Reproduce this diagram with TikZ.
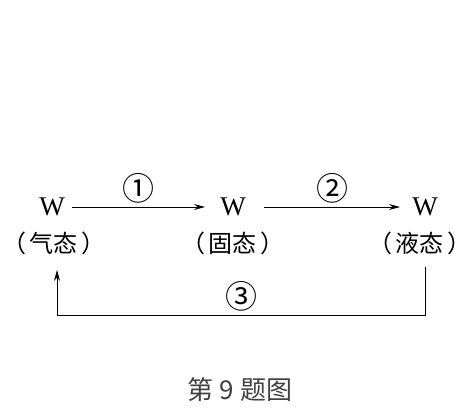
\documentclass[tikz,border=0pt]{standalone}
\usepackage{fontspec}
\setmainfont{Liberation Serif}
\newfontfamily\cjk{Noto Sans CJK SC}
\usetikzlibrary{arrows.meta,positioning,calc}
\newcommand{\phasetext}[1]{（\hspace{0.15em}#1\hspace{0.15em}）}

\begin{document}
\begin{tikzpicture}[x=1pt,y=-1pt,line width=0.8pt,
    >={Stealth[length=11pt,width=6pt]},
    state/.style={font=\fontsize{27}{27}\selectfont, inner sep=3pt},
    phase/.style={font=\cjk\fontsize{24}{24}\selectfont, inner sep=0pt},
    step num/.style={font=\cjk\fontsize{32}{32}\selectfont, inner sep=0pt},
    caption/.style={font=\cjk\fontsize{26}{26}\selectfont, text=black!75}]
    \useasboundingbox (0,0) rectangle (476,410);
    % the three states of W
    \node[state] (gas) at (52,207) {W};
    \node[state] (solid) at (233,207) {W};
    \node[state] (liquid) at (425,207) {W};
    \node[phase] (gaslbl) at (54,243) {\phasetext{气态}};
    \node[phase] (solidlbl) at (233,243) {\phasetext{固态}};
    \node[phase] (liquidlbl) at (420,243) {\phasetext{液态}};
    % changes
    \draw[->] ([xshift=20pt]gas.center) -- node[step num, above=3pt] (n1) {①} ([xshift=-28pt]solid.center);
    \draw[->] ([xshift=31pt]solid.center) -- node[step num, above=3pt] (n2) {②} ([xshift=-25pt]liquid.center);
    \coordinate (back) at (425,267);
    \draw[->] (back) -- (425,315) -| node[step num, pos=0.25, above=3pt] (n3) {③} (57,270);
    \node[caption] (cap) at (240,390) {第 9 题图};
\end{tikzpicture}
\end{document}
